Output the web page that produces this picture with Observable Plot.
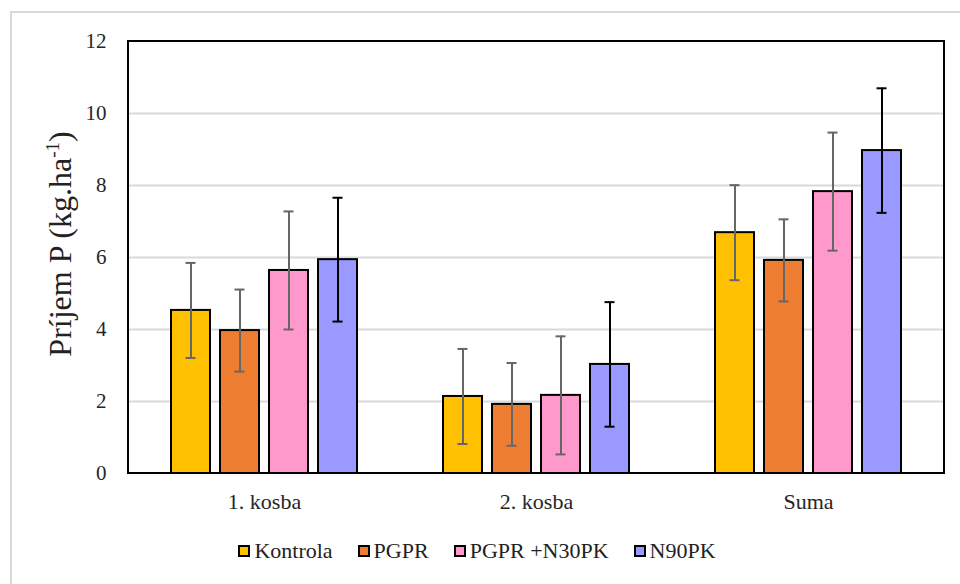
<!DOCTYPE html>
<html>
<head>
<meta charset="utf-8">
<script src="https://cdn.jsdelivr.net/npm/d3@7"></script>
<script src="https://cdn.jsdelivr.net/npm/@observablehq/plot@0.6"></script>
<style>
  html, body { margin: 0; padding: 0; background: #fff; }
  #wrap { position: relative; width: 960px; height: 584px; overflow: hidden; background: #fff; font-family: "Liberation Serif", "Times New Roman", serif; }
  #border { position: absolute; left: 10px; top: 11px; width: 1000px; height: 1000px; border: 2px solid #d9d9d9; }
  #chart { position: absolute; left: 0; top: 0; }
  #legend { position: absolute; left: 0; top: 540px; width: 954px; display: flex; justify-content: center; font-size: 22px; line-height: 22px; color: #222; }
  .item { display: flex; align-items: center; margin: 0 12.5px; white-space: pre; }
  .sw { width: 8px; height: 8px; border: 2px solid #000; margin-right: 4px; }
</style>
</head>
<body>
<div id="wrap">
  <div id="border"></div>
  <div id="chart"></div>
  <div id="legend"></div>
</div>
<script>
const groups = ["1. kosba", "2. kosba", "Suma"];
const series = ["Kontrola", "PGPR", "PGPR +N30PK", "N90PK"];
const colors = ["#FFC000", "#ED7D31", "#FF99CC", "#9999FF"];
const kosba1 = [4.53, 3.97, 5.64, 5.94];
const kosba2 = [2.14, 1.92, 2.17, 3.03];
const suma = [6.69, 5.92, 7.83, 8.97];
const err1 = [1.32, 1.14, 1.64, 1.72];
const err2 = [1.32, 1.15, 1.64, 1.73];
const errS = [1.32, 1.14, 1.64, 1.73];
const yTicks = [0, 2, 4, 6, 8, 10, 12];
const yLabel = "Príjem P (kg.ha";
const yLabelSup = "-1";

const valueSets = [kosba1, kosba2, suma];
const errSets = [err1, err2, errS];
const data = [];
groups.forEach((g, gi) => series.forEach((s, si) => {
  data.push({group: g, series: s, value: valueSets[gi][si], err: errSets[gi][si]});
}));
const grayErr = data.filter(d => d.series !== "N90PK");
const blackErr = data.filter(d => d.series === "N90PK");

function errMarks(arr, color) {
  const lo = d => d.value - d.err, hi = d => d.value + d.err;
  return [
    Plot.ruleX(arr, {fx: "group", x: "series", y1: lo, y2: hi, stroke: color, strokeWidth: 2}),
    Plot.tickY(arr, {fx: "group", x: "series", y: lo, stroke: color, strokeWidth: 2, insetLeft: 14.5, insetRight: 14.5}),
    Plot.tickY(arr, {fx: "group", x: "series", y: hi, stroke: color, strokeWidth: 2, insetLeft: 14.5, insetRight: 14.5})
  ];
}

const plot = Plot.plot({
  width: 960,
  height: 520,
  marginLeft: 128,
  marginRight: 16,
  marginTop: 41,
  marginBottom: 47,
  style: {fontFamily: "'Liberation Serif', 'Times New Roman', serif", fontSize: "21px", color: "#262626", background: "transparent"},
  fx: {domain: groups, padding: 0, label: null, axis: "bottom", tickSize: 0, tickPadding: 20},
  x: {domain: series, paddingInner: 0.2, paddingOuter: 0.875, axis: null},
  y: {domain: [0, 12], ticks: yTicks, tickSize: 0, tickPadding: 22, label: null},
  color: {domain: series, range: colors},
  marks: [
    Plot.gridY({ticks: [2, 4, 6, 8, 10], stroke: "#d9d9d9", strokeOpacity: 1, strokeWidth: 2}),
    Plot.barY(data, {fx: "group", x: "series", y: "value", fill: "series", stroke: "#000", strokeWidth: 2}),
    ...errMarks(grayErr, "#666666"),
    ...errMarks(blackErr, "#000000")
  ]
});

const svg = d3.select(plot);
svg.selectAll("[aria-label='fx-axis tick label'] text").attr("font-size", 22);
const fxR = plot.scale("fx").range;
const yR = plot.scale("y").range;
svg.append("rect")
  .attr("x", Math.min(...fxR)).attr("y", Math.min(...yR))
  .attr("width", Math.abs(fxR[1] - fxR[0])).attr("height", Math.abs(yR[1] - yR[0]))
  .attr("fill", "none").attr("stroke", "#000").attr("stroke-width", 2);

const cy = 244, cx = 71;
const t = svg.append("text")
  .attr("transform", `translate(${cx},${cy}) rotate(-90)`)
  .attr("text-anchor", "middle")
  .attr("fill", "#222")
  .attr("font-family", "'Liberation Serif', 'Times New Roman', serif")
  .attr("font-size", 32);
t.append("tspan").text(yLabel);
t.append("tspan").attr("font-size", 19).attr("dy", -12).text(yLabelSup);
t.append("tspan").attr("dy", 12).text(")");

document.getElementById("chart").appendChild(plot);

const legend = document.getElementById("legend");
series.forEach((s, i) => {
  const it = document.createElement("div");
  it.className = "item";
  const sw = document.createElement("div");
  sw.className = "sw";
  sw.style.background = colors[i];
  const lab = document.createElement("span");
  lab.textContent = s;
  it.appendChild(sw);
  it.appendChild(lab);
  legend.appendChild(it);
});
</script>
</body>
</html>
